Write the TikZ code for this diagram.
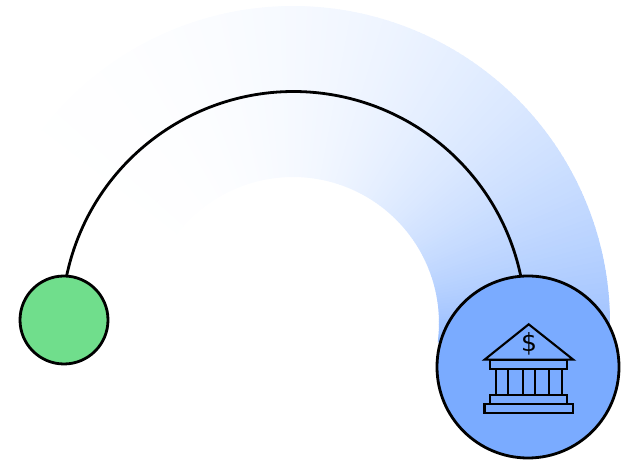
\documentclass[tikz,border=0pt]{standalone}
\usepackage{fontspec}
\setsansfont{DejaVu Sans}
\usepackage{tikz}

\definecolor{bankblue}{HTML}{7AABFF}
\definecolor{greendot}{HTML}{70DE8C}

\tikzset{
  dot/.style={circle, draw, line width=2.8pt, inner sep=0pt},
  icon/.style={line width=2.1pt, line join=miter},
}

\begin{document}
\begin{tikzpicture}[x=1pt,y=1pt]
\useasboundingbox (0,0) rectangle (626,462);
% band, one thin slice per degree
\foreach \a in {-7,...,172}{
  \pgfmathsetmacro{\t}{70*(1-\a/172)^3.1}
  \fill[bankblue!\t!white] (\a-0.6:146) ++(293,139) arc[start angle=\a-0.6,end angle=\a+0.6,radius=146]
    -- ++(\a+0.6:171) arc[start angle=\a+0.6,end angle=\a-0.6,radius=317] -- cycle;
}
% the two circles
\node[dot, fill=greendot, minimum size=88pt] (start) at (64,142) {};
\node[dot, fill=bankblue, minimum size=182pt] (bank) at (528,95) {};
\coordinate (arcstart) at (66.5,185.5);
\draw[line width=2.8pt] (arcstart) arc[start angle=168.3, end angle=11.7, radius=232];
% bank icon
\draw[icon] (484.5,102.3) -- (528.7,137.7) -- (573.3,102.3) -- cycle;
\draw[icon] (490.3,93.3) rectangle (567.3,102.3);
\draw[icon] (490.3,58.3) rectangle (567.3,67);
\draw[icon] (484.5,48.7) rectangle (573.3,58.3);
\foreach \x in {496,508.3,523.3,535,549.3,561.7}{
  \draw[icon] (\x,67) -- (\x,93.3);
}
\node[inner sep=0pt] (dollar) at (529,118) {\sffamily\fontsize{25}{25}\selectfont\$};
\end{tikzpicture}
\end{document}
